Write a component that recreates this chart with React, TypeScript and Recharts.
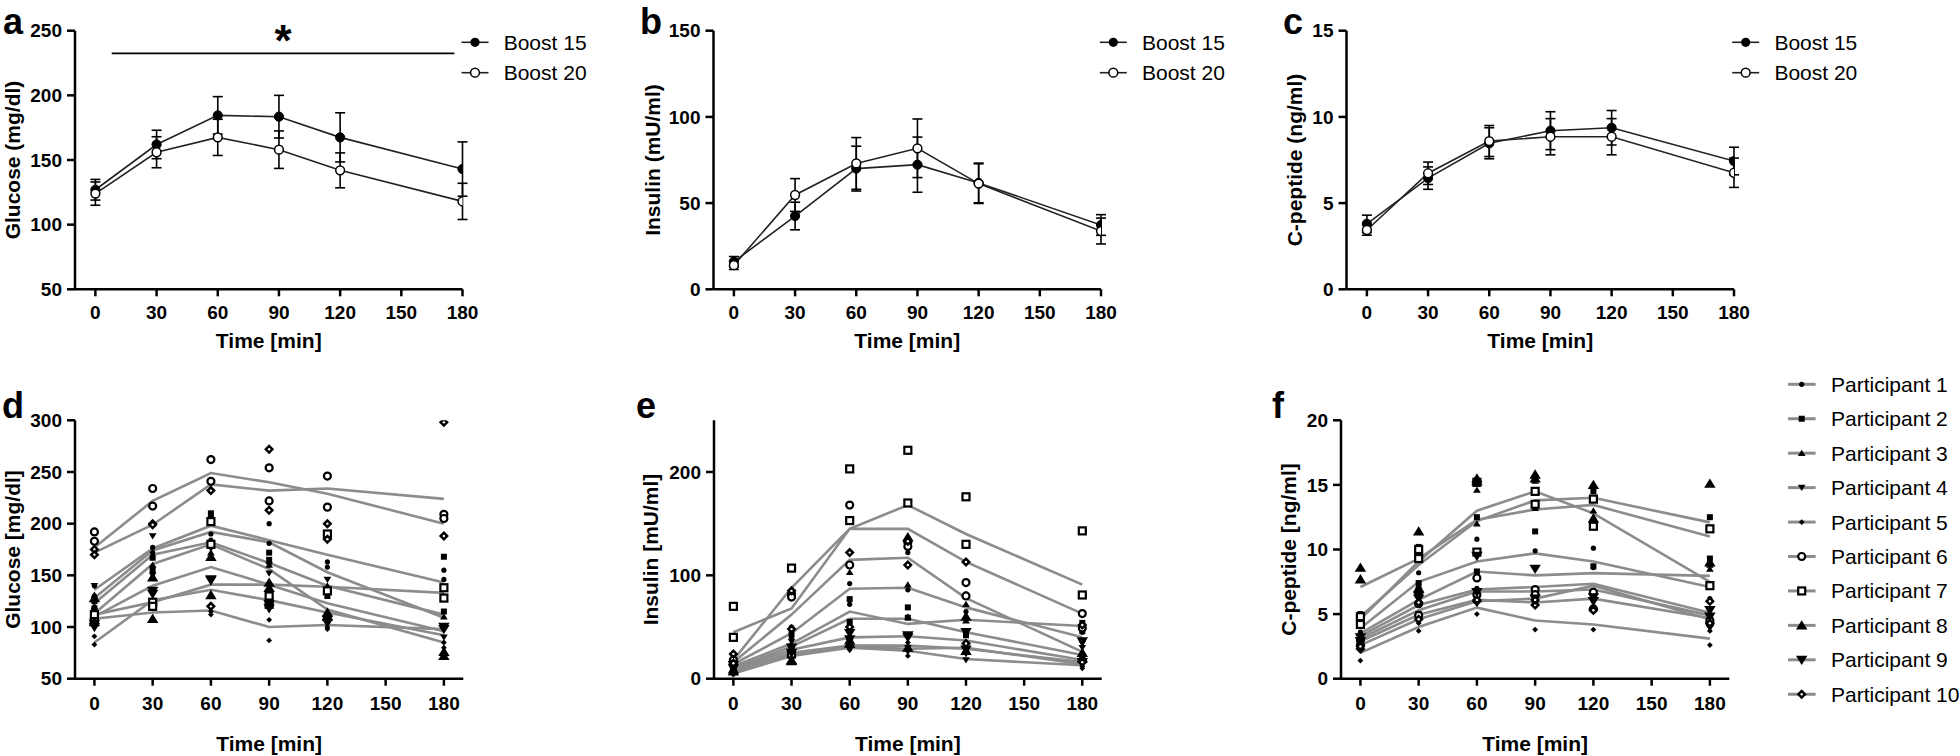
import React from 'react';
import { ComposedChart, Line, Scatter, XAxis, YAxis, ErrorBar, ReferenceLine } from 'recharts';

const times = [0, 30, 60, 90, 120, 180];
const timeTicks = [0, 30, 60, 90, 120, 150, 180];

// a-c: group mean +- SEM for the two drinks
const glucose15 = [127, 162, 184.5, 183.5, 167.5, 143];
const glucose20 = [124, 156, 167.5, 158, 142, 118];
const glucoseErr15 = [8, 11, 14.5, 16.5, 19, 21];
const glucoseErr20 = [9, 12, 14, 14.5, 13.5, 14];

const insulin15 = [16, 42.5, 70, 72.3, 61.7, 37.3];
const insulin20 = [14, 54.7, 73, 81.8, 61.3, 33.8];
const insulinErr15 = [3, 8, 13, 16, 11.5, 6];
const insulinErr20 = [2.5, 9.5, 15, 17, 11.5, 7.5];

const cpep15 = [3.8, 6.45, 8.47, 9.2, 9.37, 7.44];
const cpep20 = [3.44, 6.73, 8.6, 8.85, 8.85, 6.76];
const cpepErr15 = [0.5, 0.65, 0.9, 1.1, 1.0, 0.8];
const cpepErr20 = [0.3, 0.65, 0.9, 1.05, 1.05, 0.85];

// d-f: one grey line per participant plus the single measurements
const participants = Array.from({ length: 10 }, (_, i) => `Participant ${i + 1}`);

const glucoseLines = [
  [136, 176, 198, 184, 170, 143],
  [128, 174, 192, 182, 153, 109],
  [123, 170, 182, 162, 140, 112],
  [113, 161, 180, 156, 117, 85],
  [108, 114, 116, 100, 102, 98],
  [177, 222, 249, 240, 229, 200],
  [112, 124, 141, 141, 139, 133],
  [110, 140, 158, 141, 123, 96],
  [85, 126, 136, 126, 114, 92],
  [172, 199, 238, 232, 234, 224],
];
const glucosePoints = [
  [[140, 177, 190, 200, 163, 155], [130, 172, 184, 181, 158, 146]],
  [[125, 167, 210, 172, 135, 168], [118, 155, 205, 165, 130, 115]],
  [[131, 160, 172, 143, 140, 130], [120, 148, 168, 160, 136, 110]],
  [[140, 188, 178, 160, 146, 100], [112, 150, 176, 152, 110, 90]],
  [[91, 121, 112, 107, 100, 85], [83, 118, 115, 87, 98, 80]],
  [[192, 234, 262, 254, 246, 209], [183, 217, 241, 222, 216, 205]],
  [[112, 124, 202, 130, 190, 138], [105, 120, 180, 122, 135, 128]],
  [[128, 148, 131, 143, 114, 76], [105, 108, 168, 138, 110, 72]],
  [[103, 135, 146, 118, 107, 100], [100, 132, 145, 122, 104, 98]],
  [[175, 200, 232, 272, 200, 298], [170, 199, 120, 213, 185, 188]],
];

const insulinLines = [
  [14, 44, 87, 88, 69, 40],
  [12, 34, 65, 53, 57, 51],
  [10, 31, 58, 58, 45, 23],
  [7, 24, 31, 29, 30, 14],
  [5, 22, 30, 27, 19, 13],
  [16, 62, 115, 117, 78, 26],
  [45, 68, 145, 168, 140, 91],
  [8, 25, 32, 32, 29, 16],
  [9, 28, 40, 41, 37, 18],
  [18, 88, 145, 145, 113, 63],
];
const insulinPoints = [
  [[10, 50, 92, 122, 82, 48], [12, 40, 72, 86, 65, 45]],
  [[13, 43, 77, 69, 44, 54], [9, 30, 55, 59, 42, 46]],
  [[8, 34, 103, 91, 72, 22], [11, 22, 40, 60, 56, 26]],
  [[6, 36, 36, 30, 18, 34], [8, 20, 28, 26, 24, 30]],
  [[4, 26, 44, 35, 27, 10], [6, 20, 28, 22, 30, 12]],
  [[18, 82, 168, 132, 93, 63], [14, 79, 110, 128, 80, 49]],
  [[70, 107, 203, 221, 176, 143], [40, 24, 153, 170, 130, 81]],
  [[9, 18, 37, 137, 60, 20], [7, 17, 34, 30, 27, 25]],
  [[13, 30, 44, 42, 45, 36], [10, 25, 38, 40, 28, 16]],
  [[24, 85, 122, 133, 113, 52], [15, 48, 50, 110, 34, 16]],
];

const cpepLines = [
  [3.9, 7.5, 9.07, 9.7, 9.07, 7.1],
  [4.8, 8.8, 12.2, 13.8, 14.0, 12.1],
  [3.5, 6.1, 8.3, 8.0, 8.17, 7.96],
  [2.6, 4.6, 6.0, 6.2, 7.2, 4.6],
  [2.0, 4.0, 5.5, 4.5, 4.2, 3.1],
  [3.1, 5.3, 6.75, 6.75, 6.9, 4.9],
  [4.6, 9.07, 13.0, 14.5, 12.8, 7.5],
  [7.1, 9.3, 12.3, 13.1, 13.45, 11.0],
  [3.3, 5.7, 6.9, 7.1, 7.35, 5.1],
  [2.9, 4.95, 6.1, 5.9, 6.2, 4.7],
];
const cpepPoints = [
  [[4.3, 8.2, 10.8, 9.9, 10.1, 7.3], [3.6, 6.6, 7.0, 7.0, 8.6, 6.2]],
  [[5.0, 10.2, 12.5, 14.4, 14.5, 12.5], [4.4, 7.4, 8.3, 11.4, 8.7, 9.3]],
  [[3.4, 7.2, 14.6, 13.2, 13.0, 8.8], [2.9, 6.5, 12.0, 15.3, 12.5, 8.5]],
  [[2.8, 5.0, 6.3, 6.0, 6.5, 3.9], [2.5, 4.4, 5.8, 5.8, 6.0, 4.2]],
  [[1.4, 3.7, 5.0, 3.8, 3.8, 2.6], [2.7, 4.3, 5.9, 5.6, 5.3, 3.7]],
  [[3.0, 4.9, 7.8, 6.9, 6.7, 4.3], [2.6, 5.8, 6.5, 6.5, 5.4, 4.5]],
  [[4.2, 9.3, 15.2, 13.5, 13.9, 11.6], [4.8, 10.0, 9.8, 14.5, 11.8, 7.2]],
  [[8.6, 11.4, 15.5, 15.8, 15.0, 15.1], [7.7, 7.0, 15.3, 15.5, 12.4, 9.0]],
  [[3.2, 6.2, 9.5, 8.5, 6.3, 5.3], [2.9, 6.4, 6.7, 6.2, 6.0, 4.8]],
  [[2.3, 5.9, 6.0, 5.7, 5.4, 6.0], [2.5, 4.6, 6.1, 6.1, 5.3, 4.3]],
];

const FONT = '"Liberation Sans", Arial, sans-serif';
const GREY = '#8c8c8c';
const axisStroke = { stroke: '#000', strokeWidth: 2.5 };
const tickFont = { fill: '#000', fontSize: 19, fontWeight: 700, fontFamily: FONT };
const titleFont = { fill: '#000', fontSize: 21, fontWeight: 700, fontFamily: FONT };

const tri = (x: number, y: number, s: number, dir: number) =>
  `M${x},${y - s * dir} L${x + s * 1.1},${y + s * 0.8 * dir} L${x - s * 1.1},${y + s * 0.8 * dir} Z`;
const dia = (x: number, y: number, s: number) => `M${x},${y - s} L${x + s},${y} L${x},${y + s} L${x - s},${y} Z`;

// GraphPad-ish symbol set, one per participant
function Mark({ kind, x, y }: { kind: number; x: number; y: number }) {
  switch (kind) {
    case 0: return <circle cx={x} cy={y} r={2.6} fill="#000" />;
    case 1: return <rect x={x - 3} y={y - 3} width={6} height={6} fill="#000" />;
    case 2: return <path d={tri(x, y, 3.5, 1)} fill="#000" />;
    case 3: return <path d={tri(x, y, 3.5, -1)} fill="#000" />;
    case 4: return <path d={dia(x, y, 2.9)} fill="#000" />;
    case 5: return <circle cx={x} cy={y} r={3.5} fill="#fff" stroke="#000" strokeWidth={2.2} />;
    case 6: return <rect x={x - 3.5} y={y - 3.5} width={7} height={7} fill="#fff" stroke="#000" strokeWidth={2.2} />;
    case 7: return <path d={tri(x, y, 5.2, 1)} fill="#000" />;
    case 8: return <path d={tri(x, y, 5.2, -1)} fill="#000" />;
    default:
      return (
        <g>
          <path d={dia(x, y, 5)} fill="#000" />
          <circle cx={x} cy={y} r={1.2} fill="#fff" />
        </g>
      );
  }
}

type SummaryProps = {
  left: number; width: number; yWidth: number; domain: number[]; ticks: number[];
  title: string; titleX: number; b15: number[]; b20: number[]; e15: number[]; e20: number[];
  children?: React.ReactNode;
};

function SummaryPanel({ left, width, yWidth, domain, ticks, title, titleX, b15, b20, e15, e20, children }: SummaryProps) {
  const rows = times.map((t, i) => ({ t, b15: b15[i], b20: b20[i], e15: e15[i], e20: e20[i] }));
  return (
    <div style={{ position: 'absolute', left, top: 0 }}>
      <ComposedChart width={width} height={380} data={rows} margin={{ top: 30.7, right: 30, bottom: 0, left: 0 }}>
        <XAxis type="number" dataKey="t" domain={[-10, 180]} ticks={timeTicks} interval={0} allowDataOverflow
          height={90.7} tickSize={7} tickMargin={9} axisLine={axisStroke} tickLine={axisStroke} tick={tickFont}
          label={{ value: 'Time [min]', position: 'insideBottom', offset: 31.7, style: titleFont }} />
        <YAxis type="number" domain={domain} ticks={ticks} interval={0} allowDataOverflow width={yWidth}
          tickSize={8} tickMargin={5} axisLine={axisStroke} tickLine={axisStroke} tick={tickFont}
          label={{ value: title, angle: -90, position: 'insideLeft', offset: titleX, style: { ...titleFont, textAnchor: 'middle' } }} />
        {children}
        <Line dataKey="b15" stroke="#222" strokeWidth={1.6} isAnimationActive={false}
          dot={{ r: 4.6, fill: '#000', stroke: '#000', strokeWidth: 1 }}>
          <ErrorBar dataKey="e15" width={5} stroke="#000" strokeWidth={1.6} direction="y" />
        </Line>
        <Line dataKey="b20" stroke="#222" strokeWidth={1.6} isAnimationActive={false}
          dot={{ r: 4.4, fill: '#fff', stroke: '#000', strokeWidth: 1.5 }}>
          <ErrorBar dataKey="e20" width={5} stroke="#000" strokeWidth={1.6} direction="y" />
        </Line>
      </ComposedChart>
    </div>
  );
}

type ParticipantProps = {
  left: number; width: number; yWidth: number; domain: number[]; ticks: number[];
  title: string; titleX: number; lines: number[][]; points: number[][][];
};

function ParticipantPanel({ left, width, yWidth, domain, ticks, title, titleX, lines, points }: ParticipantProps) {
  const rows = times.map((t, i) => {
    const row: Record<string, number> = { t };
    lines.forEach((l, p) => { row[`p${p}`] = l[i]; });
    return row;
  });
  return (
    <div style={{ position: 'absolute', left, top: 380 }}>
      <ComposedChart width={width} height={376} data={rows} margin={{ top: 40.3, right: 10, bottom: 0, left: 0 }}>
        <XAxis type="number" dataKey="t" domain={[-10, 190]} ticks={timeTicks} interval={0} allowDataOverflow
          height={77.3} tickSize={7} tickMargin={11} axisLine={axisStroke} tickLine={axisStroke} tick={tickFont}
          label={{ value: 'Time [min]', position: 'insideBottom', offset: 4.5, style: titleFont }} />
        <YAxis type="number" domain={domain} ticks={ticks} interval={0} allowDataOverflow width={yWidth}
          tickSize={8} tickMargin={5} axisLine={axisStroke} tickLine={axisStroke} tick={tickFont}
          label={{ value: title, angle: -90, position: 'insideLeft', offset: titleX, style: { ...titleFont, textAnchor: 'middle' } }} />
        {lines.map((_, p) => (
          <Line key={`l${p}`} dataKey={`p${p}`} stroke={GREY} strokeWidth={2.6} dot={false} isAnimationActive={false} />
        ))}
        {points.map((pair, p) => (
          <Scatter key={`s${p}`} dataKey="v" isAnimationActive={false}
            data={times.flatMap((t, i) => pair.map((arr) => ({ t, v: arr[i] })))}
            shape={(s: any) => <Mark kind={p} x={s.cx} y={s.cy} />} />
        ))}
      </ComposedChart>
    </div>
  );
}

const boostLegendX = [475, 1113.3, 1745.7];
const panelLetters = [
  { l: 'a', x: 3, y: 34 }, { l: 'b', x: 640, y: 34 }, { l: 'c', x: 1283, y: 34 },
  { l: 'd', x: 2, y: 418 }, { l: 'e', x: 636, y: 418 }, { l: 'f', x: 1272, y: 418 },
];

function Overlay() {
  return (
    <svg width={1960} height={756} style={{ position: 'absolute', left: 0, top: 0, pointerEvents: 'none' }}>
      {panelLetters.map((p) => (
        <text key={p.l} x={p.x} y={p.y} fontSize={36} fontWeight={700} fontFamily={FONT}>{p.l}</text>
      ))}
      {boostLegendX.map((x) => (
        <g key={x} fontFamily={FONT} fontSize={21}>
          <line x1={x - 13.5} x2={x + 13.5} y1={42.3} y2={42.3} stroke="#222" strokeWidth={1.6} />
          <circle cx={x} cy={42.3} r={4.6} fill="#000" />
          <text x={x + 28.7} y={49.8}>Boost 15</text>
          <line x1={x - 13.5} x2={x + 13.5} y1={72.7} y2={72.7} stroke="#222" strokeWidth={1.6} />
          <circle cx={x} cy={72.7} r={4.4} fill="#fff" stroke="#000" strokeWidth={1.5} />
          <text x={x + 28.7} y={80.2}>Boost 20</text>
        </g>
      ))}
      {participants.map((name, i) => {
        const y = 384.3 + i * 34.44;
        return (
          <g key={name} fontFamily={FONT} fontSize={21}>
            <line x1={1788} x2={1815.6} y1={y} y2={y} stroke={GREY} strokeWidth={3} />
            <Mark kind={i} x={1801.7} y={y} />
            <text x={1831} y={y + 7.5}>{name}</text>
          </g>
        );
      })}
    </svg>
  );
}

export default function App() {
  return (
    <div style={{ position: 'absolute', left: 0, top: 0, width: 1960, height: 756, background: '#fff', fontFamily: FONT }}>
      <SummaryPanel left={0} width={492.5} yWidth={75} domain={[50, 250]} ticks={[50, 100, 150, 200, 250]}
        title="Glucose (mg/dl)" titleX={13} b15={glucose15} b20={glucose20} e15={glucoseErr15} e20={glucoseErr20}>
        <ReferenceLine segment={[{ x: 8, y: 232.5 }, { x: 176, y: 232.5 }]} stroke="#000" strokeWidth={1.6}
          label={{ value: '*', position: 'top', offset: -3, style: { fontSize: 44, fontWeight: 700, fill: '#000', fontFamily: FONT } }} />
      </SummaryPanel>
      <SummaryPanel left={640} width={491} yWidth={73.5} domain={[0, 150]} ticks={[0, 50, 100, 150]}
        title="Insulin (mU/ml)" titleX={13} b15={insulin15} b20={insulin20} e15={insulinErr15} e20={insulinErr20} />
      <SummaryPanel left={1280} width={484} yWidth={66.5} domain={[0, 15]} ticks={[0, 5, 10, 15]}
        title="C-peptide (ng/ml)" titleX={15} b15={cpep15} b20={cpep20} e15={cpepErr15} e20={cpepErr20} />
      <ParticipantPanel left={0} width={473.3} yWidth={75} domain={[50, 300]} ticks={[50, 100, 150, 200, 250, 300]}
        title="Glucose [mg/dl]" titleX={12.5} lines={glucoseLines} points={glucosePoints} />
      <ParticipantPanel left={625} width={486.7} yWidth={89} domain={[0, 250]} ticks={[0, 100, 200]}
        title="Insulin [mU/ml]" titleX={25.5} lines={insulinLines} points={insulinPoints} />
      <ParticipantPanel left={1265} width={474.3} yWidth={76} domain={[0, 20]} ticks={[0, 5, 10, 15, 20]}
        title="C-peptide [ng/ml]" titleX={24} lines={cpepLines} points={cpepPoints} />
      <Overlay />
    </div>
  );
}
